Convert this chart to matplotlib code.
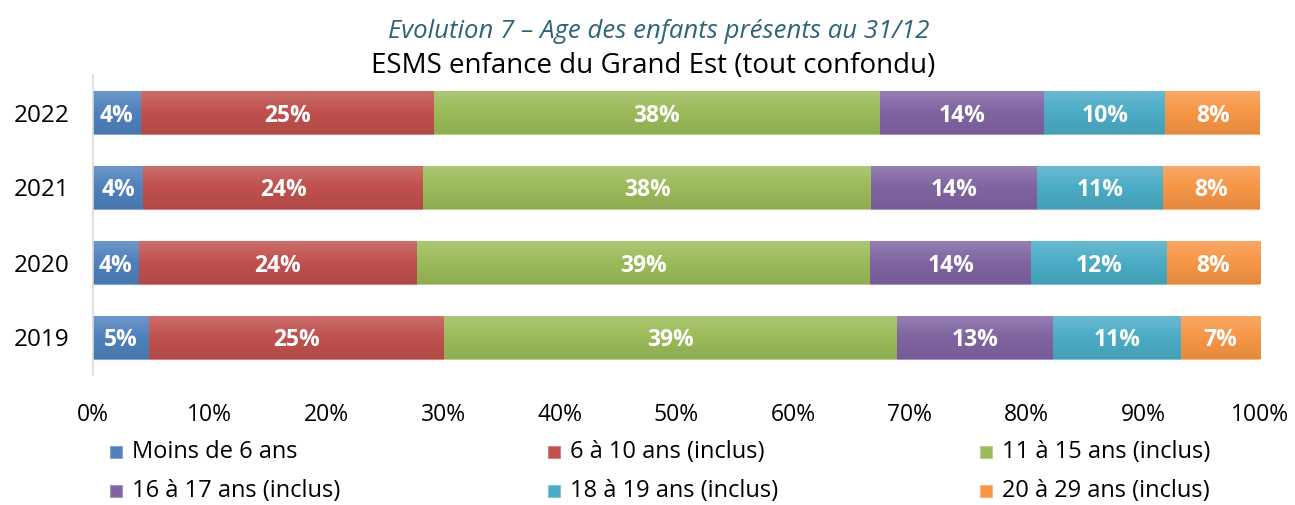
import matplotlib
matplotlib.use("Agg")
import matplotlib.pyplot as plt
import numpy as np
from matplotlib.patches import Rectangle
from matplotlib.colors import LinearSegmentedColormap, to_rgb

plt.rcParams['font.family'] = ['Open Sans', 'DejaVu Sans']

years = ["2019", "2020", "2021", "2022"]
categories = ["Moins de 6 ans", "6 à 10 ans (inclus)", "11 à 15 ans (inclus)",
              "16 à 17 ans (inclus)", "18 à 19 ans (inclus)", "20 à 29 ans (inclus)"]
# percentages per category, ordered as years
moins6 = [4.8, 3.9, 4.3, 4.1]
a6_10 = [25.3, 23.9, 24.0, 25.1]
a11_15 = [38.8, 38.8, 38.4, 38.2]
a16_17 = [13.4, 13.8, 14.2, 14.1]
a18_19 = [10.9, 11.6, 10.8, 10.4]
a20_29 = [6.8, 8.0, 8.3, 8.1]
series = [moins6, a6_10, a11_15, a16_17, a18_19, a20_29]
colors = ["#4F81BD", "#C0504D", "#9BBB59", "#8064A2", "#4BACC6", "#F79646"]

W, H = 1295, 505
fig = plt.figure(figsize=(W / 100, H / 100), dpi=100)
ax = fig.add_axes([93 / W, 1 - 375 / H, (1260 - 93) / W, 300 / H])

def mix(c, t, f):
    c = np.array(to_rgb(c)); t = np.array(to_rgb(t))
    return tuple(c + (t - c) * f)

y = np.arange(len(years))
left = np.zeros(len(years))
bar_h = 0.58
for vals, col in zip(series, colors):
    vals = np.array(vals)
    bars = ax.barh(y, vals, left=left, height=bar_h, color=col,
                   edgecolor=mix(col, "white", 0.3), linewidth=0.8, zorder=2)
    cmap = LinearSegmentedColormap.from_list(
        "g", [mix(col, "black", 0.08), col, mix(col, "white", 0.18)])
    grad = np.linspace(0, 1, 64).reshape(-1, 1)
    for b in bars:
        x0, y0 = b.get_x(), b.get_y()
        w, h = b.get_width(), b.get_height()
        im = ax.imshow(grad, cmap=cmap, aspect='auto', origin='lower',
                       extent=[x0, x0 + w, y0, y0 + h], zorder=2.5,
                       interpolation='bilinear')
        im.set_clip_path(b)
    for yi, (l, v) in enumerate(zip(left, vals)):
        ax.text(l + v / 2, yi, f"{round(v)}%", ha='center', va='center_baseline',
                color='white', fontsize=16.5, fontweight='bold', zorder=4)
    left = left + vals

ax.set_xlim(0, 100)
ax.set_ylim(-0.5, 3.5)
ax.set_yticks(y)
ax.set_yticklabels(years, fontsize=17.5)
ax.set_xticks(np.arange(0, 101, 10))
ax.set_xticklabels([f"{v}%" for v in range(0, 101, 10)], fontsize=16.5)
ax.tick_params(axis='both', length=0)
ax.tick_params(axis='x', pad=20)
ax.tick_params(axis='y', pad=17)
for s in ['top', 'right', 'bottom']:
    ax.spines[s].set_visible(False)
ax.spines['left'].set_color('#D9D9D9')
ax.spines['left'].set_linewidth(1.2)

fig.text(659 / W, 1 - 31 / H, "Evolution 7 – Age des enfants présents au 31/12",
         ha='center', va='center', fontsize=18.5, style='italic', color='#2E6478')
fig.text(653 / W, 1 - 66 / H, "ESMS enfance du Grand Est (tout confondu)",
         ha='center', va='center', fontsize=20, color='black')

leg_x = [110, 548, 980]
leg_y = [452, 491]
for i, (lab, col) in enumerate(zip(categories, colors)):
    cx = leg_x[i % 3]; cy = leg_y[i // 3]
    fig.patches.append(Rectangle((cx / W, 1 - (cy + 6) / H), 12 / W, 12 / H,
                                 transform=fig.transFigure, facecolor=col,
                                 edgecolor=mix(col, "white", 0.3), linewidth=0.8))
    fig.text((cx + 22) / W, 1 - cy / H, lab, ha='left', va='center', fontsize=17)

fig.savefig("out.png", dpi=100)
